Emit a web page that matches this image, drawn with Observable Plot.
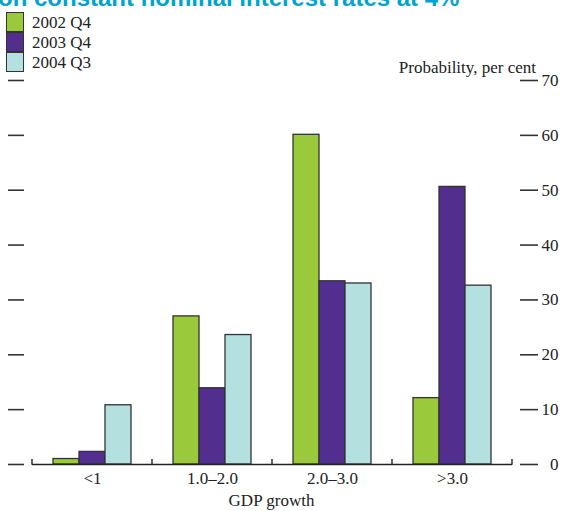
<!DOCTYPE html>
<html>
<head>
<meta charset="utf-8">
<script src="https://cdn.jsdelivr.net/npm/d3@7"></script>
<script src="https://cdn.jsdelivr.net/npm/@observablehq/plot@0.6"></script>
<style>
  html, body { margin: 0; padding: 0; background: #fff; }
  #wrap { position: relative; width: 561px; height: 511px; overflow: hidden; font-family: "Liberation Serif", serif; color: #222; }
  #title { position: absolute; left: -2px; top: -14px; font-family: "Liberation Sans", Arial, sans-serif; font-weight: bold; font-size: 24px; line-height: 24px; color: #00a3d0; white-space: nowrap; }
  #legend { position: absolute; left: 6px; top: 12px; }
  .item { position: relative; height: 20px; }
  .sw { position: absolute; left: 0; top: 0; width: 16px; height: 18px; border: 1.2px solid #333; }
  .lab { position: absolute; left: 26px; top: 1px; font-size: 17px; line-height: 20px; white-space: nowrap; }
  #ylab { position: absolute; right: 25px; top: 58px; font-size: 17px; line-height: 20px; white-space: nowrap; }
  #xlab { position: absolute; left: 0; width: 543px; text-align: center; top: 491px; font-size: 17px; line-height: 20px; }
  #chart { position: absolute; left: 0; top: 0; }
</style>
</head>
<body>
<div id="wrap">
  <div id="chart"></div>
  <div id="title">on constant nominal interest rates at 4%</div>
  <div id="legend"></div>
  <div id="ylab">Probability, per cent</div>
  <div id="xlab">GDP growth</div>
</div>
<script>
const categories = ["<1", "1.0–2.0", "2.0–3.0", ">3.0"];
const series = ["2002 Q4", "2003 Q4", "2004 Q3"];
const values2002Q4 = [1.0, 27.0, 60.1, 12.1];
const values2003Q4 = [2.3, 13.9, 33.4, 50.6];
const values2004Q3 = [10.8, 23.6, 33.0, 32.6];
const yTicks = [0, 10, 20, 30, 40, 50, 60, 70];
const colors = ["#9aca3c", "#522e8e", "#b4e0e0"];

const seriesValues = [values2002Q4, values2003Q4, values2004Q3];
const data = [];
categories.forEach((c, i) => {
  series.forEach((s, j) => data.push({category: c, series: s, value: seriesValues[j][i]}));
});

// legend
const legend = d3.select("#legend");
series.forEach((s, j) => {
  const it = legend.append("div").attr("class", "item");
  it.append("div").attr("class", "sw").style("background", colors[j]);
  it.append("div").attr("class", "lab").text(s);
});

const chart = Plot.plot({
  width: 561,
  height: 511,
  marginTop: 80,
  marginBottom: 47,
  marginLeft: 31,
  marginRight: 49,
  style: {fontFamily: "Liberation Serif, serif", fontSize: "17px", color: "#222", background: "transparent"},
  fx: {domain: categories, paddingInner: 0, paddingOuter: 0, label: null},
  x: {domain: series, paddingInner: 0, paddingOuter: 0.727, axis: null},
  y: {domain: [0, 70], label: null},
  color: {domain: series, range: colors},
  marks: [
    Plot.barY(data, {fx: "category", x: "series", y: "value", fill: "series", stroke: "#333", strokeWidth: 1.3}),
    Plot.ruleY([0], {stroke: "#222", strokeWidth: 1.4}),
    Plot.axisY({anchor: "left", ticks: yTicks, tickSize: 16, dx: -8, tickFormat: () => "", stroke: "#333", strokeWidth: 1.6, label: null}),
    Plot.axisY({anchor: "right", ticks: yTicks, tickSize: 18, dx: 7, tickPadding: 21, textAnchor: "end", stroke: "#333", strokeWidth: 1.6, label: null, fill: "#222"}),
    Plot.axisFx({anchor: "bottom", tickSize: 0, tickPadding: 7, label: null, fill: "#222"})
  ]
});
document.getElementById("chart").appendChild(chart);

// group boundary ticks on the x axis, placed via Plot's own scales
const fx = chart.scale("fx");
const ys = chart.scale("y");
const y0 = ys.apply(0);
const bounds = categories.map(c => fx.apply(c)).concat([fx.apply(categories[categories.length - 1]) + fx.bandwidth]);
d3.select(chart).append("g")
  .attr("stroke", "#222").attr("stroke-width", 1.4)
  .selectAll("line").data(bounds).join("line")
  .attr("x1", d => d).attr("x2", d => d)
  .attr("y1", y0 + 0.7).attr("y2", y0 - 5);
</script>
</body>
</html>
